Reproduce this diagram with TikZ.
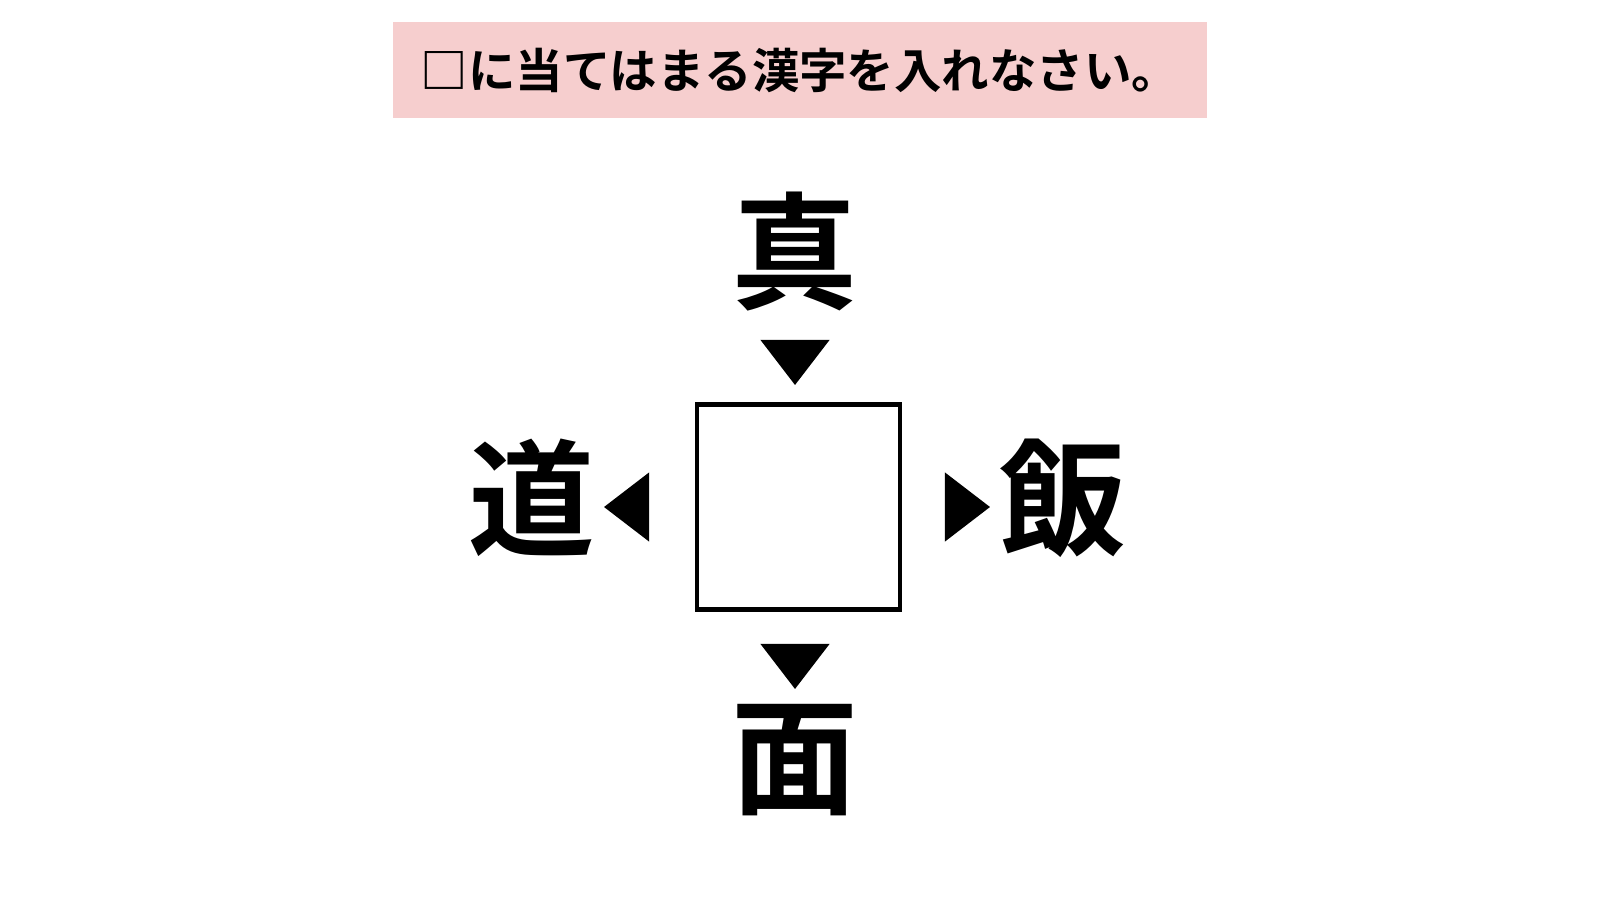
\documentclass[tikz,border=0pt]{standalone}
\usepackage{fontspec}
\newfontfamily\jp{Noto Sans CJK JP Bold}
\usetikzlibrary{shapes.geometric, positioning}
\definecolor{titlecolor}{RGB}{246, 206, 206}

\begin{document}
\begin{tikzpicture}[
    kanji/.style={font=\jp\fontsize{36}{36}\selectfont, inner sep=0pt},
    tri/.style={isosceles triangle, isosceles triangle apex angle=75, fill=black, draw=none,
                minimum width=0.62cm, minimum height=0.45cm, inner sep=0pt}
]
\useasboundingbox (0, 0) rectangle (16, 9);

% Title
\node[fill=titlecolor, minimum width=8.14cm, minimum height=0.96cm,
      font=\jp\fontsize{13.5}{13.5}\selectfont] (title) at (8, 8.3) {□に当てはまる漢字を入れなさい。};

% Center box
\node[draw, line width=1.2pt, minimum width=2.03cm, minimum height=2.05cm] (box) at (7.985, 3.93) {};

% Surrounding kanji
\node[kanji] (top) at (7.95, 6.48) {真};
\node[kanji] (left) at (5.32, 4.02) {道};
\node[kanji] (right) at (10.63, 4.02) {飯};
\node[kanji] (bottom) at (7.95, 1.40) {面};

% Arrowheads
\node[tri, shape border rotate=-90] (atop) at (7.95, 5.43) {};
\node[tri, shape border rotate=180] (aleft) at (6.32, 3.93) {};
\node[tri, shape border rotate=0] (aright) at (9.62, 3.93) {};
\node[tri, shape border rotate=-90] (abottom) at (7.95, 2.39) {};

\end{tikzpicture}
\end{document}
